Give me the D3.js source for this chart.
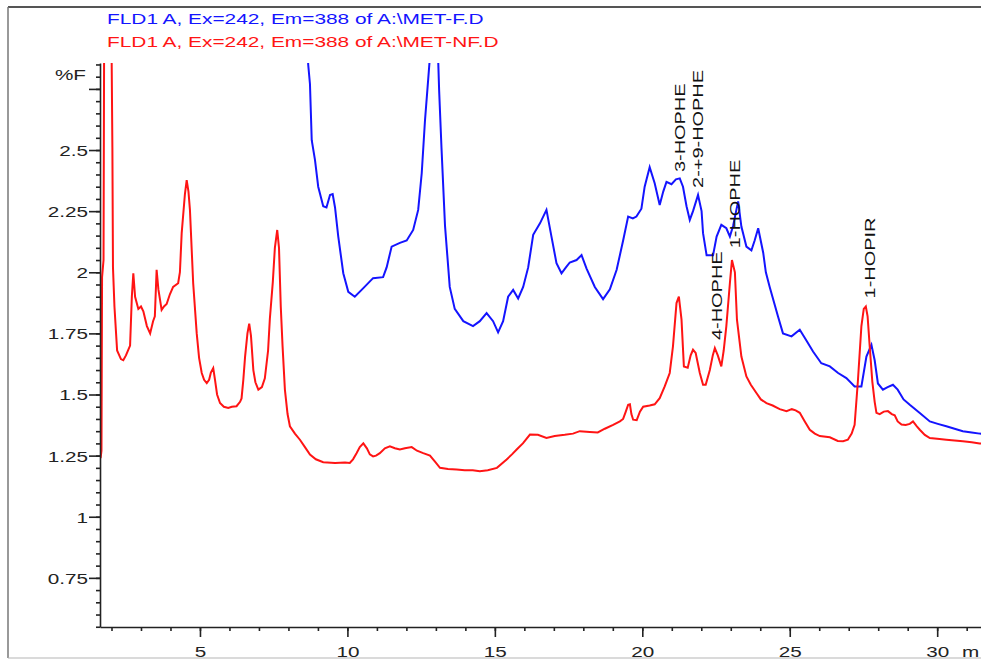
<!DOCTYPE html>
<html>
<head>
<meta charset="utf-8">
<script src="https://cdn.jsdelivr.net/npm/d3@7"></script>
<style>
  body { margin: 0; background: #fff; }
  text { font-family: "Liberation Sans", Arial, sans-serif; }
</style>
</head>
<body>
<div id="chart"></div>
<script>
// traces: retention time (min) and signal (%F)
var blueTime = [
  8.64, 8.67, 8.73, 8.79, 8.90, 9.01, 9.18, 9.29, 9.41, 9.50,
  9.58, 9.69, 9.86, 10.03, 10.25, 10.54, 10.87, 11.21, 11.33, 11.50,
  11.78, 12.01, 12.23, 12.40, 12.52, 12.63, 12.74, 12.81, 13.07, 13.11,
  13.19, 13.31, 13.47, 13.64, 13.93, 14.26, 14.49, 14.72, 14.94, 15.11,
  15.28, 15.45, 15.62, 15.79, 15.96, 16.13, 16.30, 16.53, 16.75, 16.92,
  17.09, 17.26, 17.41, 17.54, 17.77, 17.94, 18.11, 18.39, 18.67, 18.90,
  19.13, 19.35, 19.52, 19.68, 19.80, 19.97, 20.08, 20.25, 20.42, 20.59,
  20.71, 20.82, 20.99, 21.14, 21.27, 21.38, 21.50, 21.61, 21.72, 21.89,
  22.01, 22.06, 22.18, 22.29, 22.40, 22.52, 22.68, 22.85, 22.97, 23.08,
  23.25, 23.36, 23.53, 23.70, 23.81, 23.93, 24.10, 24.19, 24.32, 24.60,
  24.77, 25.06, 25.34, 25.57, 25.79, 26.07, 26.36, 26.64, 26.92, 27.20,
  27.43, 27.60, 27.77, 27.88, 27.99, 28.16, 28.32, 28.50, 28.66, 28.86,
  29.07, 29.41, 29.75, 30.02, 30.31, 30.59, 30.87, 31.17, 31.44, 31.78
];
var blueValue = [
  2.95, 2.85, 2.77, 2.54, 2.46, 2.35, 2.27, 2.265, 2.316, 2.32,
  2.265, 2.146, 1.996, 1.92, 1.90, 1.935, 1.976, 1.98, 2.02, 2.105,
  2.12, 2.13, 2.173, 2.255, 2.405, 2.62, 2.79, 2.9, 2.9, 2.745,
  2.51, 2.19, 1.94, 1.85, 1.80, 1.78, 1.80, 1.833, 1.80, 1.754,
  1.80, 1.90, 1.928, 1.893, 1.94, 2.02, 2.153, 2.20, 2.255, 2.146,
  2.037, 1.996, 2.02, 2.04, 2.05, 2.07, 2.015, 1.94, 1.89, 1.93,
  2.01, 2.13, 2.228, 2.22, 2.228, 2.26, 2.35, 2.43, 2.364, 2.275,
  2.33, 2.37, 2.36, 2.38, 2.384, 2.35, 2.27, 2.214, 2.25, 2.316,
  2.25, 2.16, 2.07, 2.07, 2.07, 2.146, 2.194, 2.18, 2.146, 2.19,
  2.29, 2.187, 2.105, 2.09, 2.13, 2.18, 2.08, 2.0, 1.94, 1.82,
  1.75, 1.738, 1.765, 1.72, 1.676, 1.628, 1.615, 1.588, 1.567, 1.533,
  1.533, 1.655, 1.703, 1.64, 1.545, 1.52, 1.53, 1.54, 1.52, 1.48,
  1.458, 1.424, 1.39, 1.38, 1.37, 1.36, 1.35, 1.345, 1.34, 1.338
];

var redTime = [
  1.63, 1.66, 1.68, 1.73, 1.75, 2.00, 2.03, 2.05, 2.10, 2.19,
  2.32, 2.40, 2.49, 2.63, 2.69, 2.74, 2.80, 2.91, 3.00, 3.08,
  3.20, 3.31, 3.41, 3.47, 3.53, 3.59, 3.70, 3.78, 3.87, 3.98,
  4.09, 4.26, 4.32, 4.38, 4.49, 4.55, 4.61, 4.66, 4.77, 4.89,
  4.97, 5.06, 5.14, 5.23, 5.31, 5.37, 5.45, 5.51, 5.58, 5.68,
  5.81, 5.96, 6.08, 6.24, 6.36, 6.41, 6.47, 6.53, 6.61, 6.67,
  6.73, 6.81, 6.88, 6.98, 7.10, 7.20, 7.31, 7.37, 7.47, 7.54,
  7.62, 7.68, 7.74, 7.80, 7.88, 7.97, 8.05, 8.22, 8.39, 8.56,
  8.73, 8.93, 9.18, 9.58, 9.92, 10.08, 10.19, 10.31, 10.42, 10.54,
  10.66, 10.76, 10.87, 10.97, 11.10, 11.27, 11.44, 11.61, 11.78, 11.95,
  12.18, 12.36, 12.57, 12.80, 12.97, 13.14, 13.41, 13.70, 13.98, 14.25,
  14.49, 14.76, 15.07, 15.40, 15.58, 15.74, 15.95, 16.19, 16.46, 16.75,
  17.03, 17.37, 17.65, 17.88, 18.22, 18.49, 18.73, 19.01, 19.24, 19.35,
  19.44, 19.52, 19.58, 19.63, 19.69, 19.81, 19.92, 20.03, 20.25, 20.42,
  20.59, 20.76, 20.93, 21.04, 21.16, 21.24, 21.33, 21.41, 21.54, 21.64,
  21.72, 21.81, 21.95, 22.06, 22.15, 22.29, 22.39, 22.46, 22.56, 22.68,
  22.76, 22.85, 22.97, 23.04, 23.14, 23.21, 23.36, 23.53, 23.68, 23.87,
  24.02, 24.21, 24.42, 24.66, 24.89, 25.07, 25.20, 25.34, 25.51, 25.68,
  25.85, 26.02, 26.36, 26.63, 26.81, 26.97, 27.10, 27.20, 27.31, 27.43,
  27.51, 27.58, 27.64, 27.71, 27.80, 27.88, 27.94, 28.05, 28.19, 28.33,
  28.46, 28.56, 28.66, 28.79, 28.93, 29.07, 29.18, 29.31, 29.41, 29.58,
  29.75, 30.08, 30.31, 30.59, 30.87, 31.17, 31.44, 31.78
];
var redValue = [
  1.24, 1.27, 1.98, 2.05, 2.95, 2.95, 2.51, 2.02, 1.86, 1.68,
  1.645, 1.64, 1.66, 1.70, 1.90, 1.996, 1.90, 1.85, 1.86, 1.84,
  1.78, 1.75, 1.80, 1.82, 2.01, 1.93, 1.846, 1.86, 1.87, 1.91,
  1.94, 1.955, 2.0, 2.16, 2.32, 2.377, 2.33, 2.255, 1.955, 1.75,
  1.65, 1.588, 1.56, 1.547, 1.56, 1.59, 1.608, 1.56, 1.50, 1.465,
  1.45, 1.445, 1.45, 1.452, 1.47, 1.484, 1.56, 1.655, 1.75, 1.79,
  1.74, 1.60, 1.55, 1.52, 1.53, 1.566, 1.68, 1.81, 1.96, 2.10,
  2.173, 2.10, 1.86, 1.70, 1.52, 1.42, 1.37, 1.34, 1.315, 1.285,
  1.254, 1.235, 1.223, 1.22, 1.222, 1.22, 1.235, 1.26, 1.285, 1.30,
  1.28, 1.255, 1.247, 1.25, 1.26, 1.28, 1.288, 1.28, 1.275, 1.28,
  1.285, 1.27, 1.26, 1.25, 1.225, 1.20, 1.195, 1.193, 1.19, 1.19,
  1.186, 1.19, 1.20, 1.234, 1.255, 1.275, 1.30, 1.336, 1.335, 1.322,
  1.33, 1.335, 1.34, 1.35, 1.347, 1.345, 1.36, 1.376, 1.39, 1.40,
  1.43, 1.458, 1.46, 1.42, 1.397, 1.395, 1.43, 1.45, 1.455, 1.46,
  1.485, 1.533, 1.588, 1.697, 1.874, 1.90, 1.806, 1.615, 1.61, 1.66,
  1.683, 1.67, 1.588, 1.54, 1.54, 1.60, 1.66, 1.69, 1.66, 1.615,
  1.68, 1.78, 1.955, 2.05, 2.0, 1.806, 1.655, 1.574, 1.54, 1.506,
  1.48, 1.465, 1.455, 1.44, 1.432, 1.44, 1.435, 1.425, 1.39, 1.356,
  1.34, 1.33, 1.325, 1.31, 1.309, 1.315, 1.34, 1.376, 1.553, 1.78,
  1.85, 1.86, 1.82, 1.70, 1.553, 1.47, 1.425, 1.42, 1.43, 1.432,
  1.42, 1.415, 1.39, 1.377, 1.375, 1.38, 1.39, 1.37, 1.356, 1.335,
  1.322, 1.318, 1.315, 1.312, 1.309, 1.305, 1.30, 1.298
];

// peak names, with the time / signal where each label starts
var peakNames = ["3-HOPHE", "2-+9-HOPHE", "1-HOPHE", "4-HOPHE", "1-HOPIR"];
var peakTimes = [21.44, 22.05, 23.31, 22.69, 27.88];
var peakValues = [2.41, 2.345, 2.098, 1.723, 1.893];

var titles = ["FLD1 A, Ex=242, Em=388 of A:\\MET-F.D", "FLD1 A, Ex=242, Em=388 of A:\\MET-NF.D"];

var xMajorTicks = [5, 10, 15, 20, 25, 30];
var yMajorTicks = [0.75, 1, 1.25, 1.5, 1.75, 2, 2.25, 2.5, 2.75];
var yTickLabels = ["0.75", "1", "1.25", "1.5", "1.75", "2", "2.25", "2.5", ""];

var svgWidth = 981;
var svgHeight = 659;

// plot box (runs past the right edge of the window)
var plot = { left: 100, top: 63, right: 1000, bottom: 627 };

// the old instrument font is wide, so stretch the glyphs along the text
var stretch = 1.38;

var svg = d3.select("#chart")
  .append("svg")
  .attr("width", svgWidth)
  .attr("height", svgHeight);

// outer frame
svg.append("line").attr("x1", 8).attr("y1", 7).attr("x2", svgWidth).attr("y2", 7)
  .attr("stroke", "#555").attr("stroke-width", 2);
svg.append("line").attr("x1", 8).attr("y1", 7).attr("x2", 8).attr("y2", 658)
  .attr("stroke", "#777").attr("stroke-width", 1.5);
svg.append("line").attr("x1", 8).attr("y1", 658).attr("x2", svgWidth).attr("y2", 658)
  .attr("stroke", "#b5b5b5").attr("stroke-width", 1);

var xScale = d3.scaleLinear()
  .domain([1.61, 32.13])
  .range([plot.left, plot.right]);

var yScale = d3.scaleLinear()
  .domain([0.549, 2.856])
  .range([plot.bottom, plot.top]);

// clip the traces to the plot box
svg.append("clipPath").attr("id", "plotClip")
  .append("rect")
  .attr("x", plot.left)
  .attr("y", plot.top)
  .attr("width", plot.right - plot.left)
  .attr("height", plot.bottom - plot.top);

var line = d3.line()
  .x(d => xScale(d[0]))
  .y(d => yScale(d[1]));

var blueData = blueTime.map((t, i) => [t, blueValue[i]]);
var redData = redTime.map((t, i) => [t, redValue[i]]);

var traces = svg.append("g").attr("clip-path", "url(#plotClip)");

traces.append("path")
  .datum(blueData)
  .attr("d", line)
  .attr("fill", "none")
  .attr("stroke", "#1414ff")
  .attr("stroke-width", 2);

traces.append("path")
  .datum(redData)
  .attr("d", line)
  .attr("fill", "none")
  .attr("stroke", "#ff1414")
  .attr("stroke-width", 2);

// y axis: minor ticks every 0.05, major every 0.25
var yMinor = svg.append("g")
  .attr("transform", `translate(${plot.left},0)`)
  .call(d3.axisLeft(yScale)
    .tickValues(d3.range(0.55, 2.86, 0.05))
    .tickSize(4)
    .tickSizeOuter(0)
    .tickFormat(""));

var yMajor = svg.append("g")
  .attr("transform", `translate(${plot.left},0)`)
  .call(d3.axisLeft(yScale)
    .tickValues(yMajorTicks)
    .tickSize(11)
    .tickSizeOuter(0)
    .tickFormat((d, i) => yTickLabels[i]));
yMajor.select(".domain").remove();

yMajor.selectAll("text")
  .attr("x", 0)
  .attr("dy", "0.36em")
  .attr("transform", `translate(-12,0) scale(${stretch},1)`);

// unit label sits above the top major tick
svg.append("text")
  .attr("transform", `translate(86,${yScale(2.81)}) scale(${stretch},1)`)
  .attr("dy", "0.36em")
  .attr("text-anchor", "end")
  .attr("font-size", 15)
  .attr("fill", "#222")
  .text("%F");

// x axis: minor ticks each minute, major every 5
var xMinor = svg.append("g")
  .attr("transform", `translate(0,${plot.bottom})`)
  .call(d3.axisBottom(xScale)
    .tickValues(d3.range(2, 33, 1))
    .tickSize(4)
    .tickSizeOuter(0)
    .tickFormat(""));

var xMajor = svg.append("g")
  .attr("transform", `translate(0,${plot.bottom})`)
  .call(d3.axisBottom(xScale)
    .tickValues(xMajorTicks)
    .tickSize(10)
    .tickSizeOuter(0)
    .tickFormat(d3.format("d")));
xMajor.select(".domain").remove();

xMajor.selectAll("text")
  .attr("y", 0)
  .attr("dy", 0)
  .attr("transform", `translate(0,30) scale(${stretch},1)`);

// time unit, only its first letter fits in the window
svg.append("text")
  .attr("transform", `translate(962,${plot.bottom + 30}) scale(${stretch},1)`)
  .attr("font-size", 15)
  .attr("fill", "#222")
  .text("m");

// axis styling
svg.selectAll(".domain, .tick line")
  .attr("stroke", "#222")
  .attr("stroke-width", 1.6);
svg.selectAll(".tick text")
  .attr("font-size", 15)
  .attr("font-family", "'Liberation Sans', Arial, sans-serif")
  .attr("fill", "#222");

// trace titles
var titleColors = ["#1414ff", "#ff1414"];
svg.selectAll(".title")
  .data(titles)
  .enter()
  .append("text")
  .attr("class", "title")
  .attr("transform", (d, i) => `translate(107,${24 + i * 22.5}) scale(1.39,1)`)
  .attr("font-size", 15)
  .attr("fill", (d, i) => titleColors[i])
  .text(d => d);

// peak labels, written upwards
svg.selectAll(".peak")
  .data(peakNames)
  .enter()
  .append("text")
  .attr("class", "peak")
  .attr("transform", (d, i) =>
    `translate(${xScale(peakTimes[i])},${yScale(peakValues[i])}) rotate(-90) scale(1.33,1)`)
  .attr("font-size", 15)
  .attr("fill", "#111")
  .text(d => d);
</script>
</body>
</html>
